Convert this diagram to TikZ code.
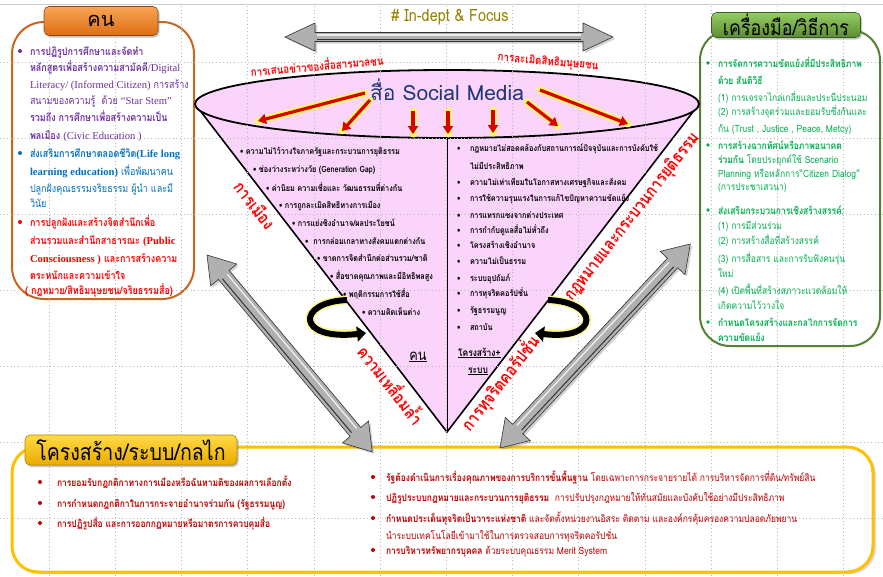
\documentclass[tikz,border=0pt]{standalone}
\usepackage{fontspec}
\usetikzlibrary{arrows.meta,shadows}
\newfontfamily\thai[Script=Thai,FakeStretch=0.85]{Loma}
\newfontfamily\thaiw[Script=Thai]{Loma}
\newfontfamily\lat{Liberation Serif}
\newcommand{\fsz}[1]{\fontsize{#1}{#1}\selectfont}
\definecolor{pinkc}{RGB}{251,212,251}
\definecolor{orgc}{RGB}{205,100,30}
\definecolor{grnc}{RGB}{84,130,53}
\definecolor{goldc}{RGB}{255,192,0}
\definecolor{purc}{RGB}{112,48,160}
\definecolor{bluc}{RGB}{0,112,192}
\definecolor{redc}{RGB}{255,0,0}
\definecolor{dredc}{RGB}{192,0,0}
\definecolor{grtxt}{RGB}{0,176,80}
\definecolor{navyc}{RGB}{31,56,120}
\definecolor{olivec}{RGB}{150,128,0}
\definecolor{tabOtop}{RGB}{248,165,85}
\definecolor{tabObot}{RGB}{222,110,20}
\definecolor{tabGtop}{RGB}{150,205,100}
\definecolor{tabGbot}{RGB}{90,140,50}
\definecolor{tabYtop}{RGB}{255,218,70}
\definecolor{tabYbot}{RGB}{235,170,0}
\newcommand{\grayarr}[4]{%
  \fill[gray!62, draw=gray!40!black, line width=0.6pt,
        drop shadow={opacity=0.35,shadow xshift=2pt,shadow yshift=-2pt}]
   (0,0) -- (#4,-#3) -- (#4,-#2) -- ({#1-#4},-#2) -- ({#1-#4},-#3) -- (#1,0)
   -- ({#1-#4},#3) -- ({#1-#4},#2) -- (#4,#2) -- (#4,#3) -- cycle;
  \draw[gray!15, line width=1.4pt] ({#4+2},{-0.45*#2}) -- ({#1-#4-2},{-0.45*#2});
  \draw[gray!40!black, line width=1pt] ({#4+2},{0.5*#2}) -- ({#1-#4-2},{0.5*#2});
}
\tikzset{
  tx/.style={anchor=base west, inner sep=0pt, outer sep=0pt},
  lbox/.style={tx, font=\thai\fsz{10.6}},
  rbox/.style={tx, font=\thai\fsz{10}, text=grtxt},
  conet/.style={tx, font=\thai\bfseries\fsz{8.6}},
  bbox/.style={tx, font=\thai\bfseries\fsz{10}, text=dredc},
  edgelab/.style={font=\thai\bfseries\fsz{17}, text=redc, inner sep=0pt},
  toplab/.style={font=\thai\bfseries\fsz{11.5}, text=redc, inner sep=0pt},
  titletab/.style={rounded corners=5pt, draw=#1, line width=0.6pt,
     drop shadow={opacity=0.45,shadow xshift=1.5pt,shadow yshift=-2pt}, inner sep=0pt},
  gridl/.style={gray!55, line width=0.5pt, dash pattern=on 0.8pt off 2.8pt},
  redarr/.style={red!85!black, line width=3.2pt, -{Triangle[length=8pt,width=10pt]}},
  glow/.style={yellow!60, line width=7pt, line cap=round},
  curl/.style={black, line width=6pt, -{Triangle[length=9pt,width=15pt]}},
  curlglow/.style={yellow!45, line width=9pt},
}
\begin{document}
\begin{tikzpicture}[x=1pt,y=-1pt]
\useasboundingbox (0,0) rectangle (883,576);
\fill[white] (0,0) rectangle (883,576);
\draw[gray!40, line width=1pt] (0,4) -- (883,4);

% boxes
\draw[orgc, line width=2pt, rounded corners=32pt, fill=white] (12,22) rectangle (194,299);
\draw[grnc, line width=2pt, rounded corners=30pt, fill=white] (700,30) rectangle (880,346);
\draw[goldc, line width=3pt, rounded corners=26pt, fill=white,
      drop shadow={opacity=0.3,shadow xshift=3pt,shadow yshift=-2pt}] (12,447) rectangle (873,572);

% funnel
\fill[pinkc] (195,104) -- (447,432) -- (699,104) -- cycle;
\draw[line width=1.6pt] (195,104) -- (447,432) -- (699,104);
\draw[line width=1.8pt, fill=pinkc] (447,104) ellipse [x radius=252, y radius=34];
\draw[line width=1pt] (447,138) -- (447,432);

% grid
\foreach \gx in {49,115.2,181.4,247.6,313.8,380,446.2,512.4,578.6,644.8,711,777.2,843.4}
  \draw[gridl] (\gx,6) -- (\gx,576);
\foreach \gy in {62,138,214,290,366,442,518}
  \draw[gridl] (0,\gy) -- (883,\gy);

% tabs
\node[titletab=orgc!70!black, top color=tabOtop, bottom color=tabObot,
      minimum width=114pt, minimum height=29pt, font=\thaiw\fsz{20}] (tabL) at (101,21) {คน};
\node[titletab=grnc!70!black, top color=tabGtop, bottom color=tabGbot,
      minimum width=149pt, minimum height=25pt, font=\thai\fsz{21}] (tabR) at (786,25) {เครื่องมือ/วิธีการ};
\node[titletab=goldc!70!black, top color=tabYtop, bottom color=tabYbot,
      minimum width=212pt, minimum height=30pt, font=\thai\fsz{23}] (tabB) at (131,450) {โครงสร้าง/ระบบ/กลไก};

% top arrow and heading
\begin{scope}[shift={(285,37)}] \grayarr{328}{4.5}{14}{30} \end{scope}
\node[font=\thai\fsz{17}, text=olivec] (focus) at (450,17) {\# In-dept \& Focus};

% diagonal grey arrows
\begin{scope}[shift={(207,255)}, rotate=-50] \grayarr{257}{7}{17}{26} \end{scope}
\begin{scope}[shift={(500,448)}, rotate=47] \grayarr{279}{7}{17}{26} \end{scope}

% social media title and red arrows
\node[font=\thaiw\fsz{21}, text=navyc] (sm) at (447,90) {สื่อ Social Media};
\foreach \xa/\ya/\xb/\yb in {365/93/258/121, 370/100/342/131, 413/111/413/134, 448/111/448/134,
    493/110/493/133, 527/102/558/126, 540/90/628/124}{
  \draw[glow] (\xa,\ya) -- (\xb,\yb);
  \draw[redarr] (\xa,\ya) -- (\xb,\yb);
}

% red labels
\node[toplab, rotate=5] (lab1) at (317,65) {การเสนอข่าวของสื่อสารมวลชน};
\node[toplab, rotate=-5] (lab2) at (548,62) {การละเมิดสิทธิมนุษยชน};
\node[edgelab, rotate=-52] (e1) at (255,205) {การเมือง};
\node[edgelab, rotate=-52] (e2) at (392,384) {ความเหลื่อมล้ำ};
\node[edgelab, rotate=52] (e3) at (632,217) {กฎหมายและกระบวนการยุติธรรม};
\node[edgelab, rotate=52] (e4) at (500,383) {การทุจริตคอรัปชั่น};

% curled arrows
\draw[curlglow] (347,300) .. controls (296,302) and (296,341) .. (356,333);
\draw[curl] (347,300) .. controls (296,302) and (296,341) .. (366,333);
\draw[curlglow] (548,300) .. controls (600,302) and (600,341) .. (545,333);
\draw[curl] (548,300) .. controls (600,302) and (600,341) .. (535,333);

% cone text left
\node[conet] (c1) at (240,154) {• ความไม่ไว้วางใจภาครัฐและกระบวนการยุติธรรม};
\node[conet] (c2) at (253,172) {• ช่องว่างระหว่างวัย (Generation Gap)};
\node[conet] (c3) at (266,191) {• ค่านิยม ความเชื่อและ วัฒนธรรมที่ต่างกัน};
\node[conet] (c4) at (279,208) {• การถูกละเมิดสิทธิทางการเมือง};
\node[conet] (c5) at (292,226) {• การแย่งชิงอำนาจ/ผลประโยชน์};
\node[conet] (c6) at (305,244) {• \ การกล่อมเกลาทางสังคมแตกต่างกัน};
\node[conet] (c7) at (317,261) {• ขาดการจิตสำนึกต่อส่วนรวม/ชาติ};
\node[conet] (c8) at (330,279) {• สื่อขาดคุณภาพและมีอิทธิพลสูง};
\node[conet] (c9) at (343,297) {• พฤติกรรมการใช้สื่อ};
\node[conet] (c10) at (362,315) {• ความคิดเห็นต่าง};
\node[font=\thai\fsz{15}] (kon) at (418,357) {\underline{คน}};

% cone text right
\foreach \yy/\tt [count=\i] in {151/กฎหมายไม่สอดคล้องกับสถานการณ์ปัจจุบันและการบังคับใช้,
   185/ความไม่เท่าเทียมในโอกาสทางเศรษฐกิจและสังคม,
   201/การใช้ความรุนแรงในการแก้ไขปัญหาความขัดแย้ง,
   218/การแทรกแซงจากต่างประเทศ,
   233/การกำกับดูแลสื่อไม่ทั่วถึง,
   248/โครงสร้างเชิงอำนาจ,
   264/ความไม่เป็นธรรม,
   281/ระบบอุปถัมภ์,
   296/การทุจริตคอรัปชั่น,
   313/รัฐธรรมนูญ,
   330/สถาบัน}{
  \node[conet] (bd\i) at (457,\yy) {•};
  \node[conet] (d\i) at (470,\yy) {\tt};
}
\node[conet] (d1b) at (470,169) {ไม่มีประสิทธิภาพ};
\node[tx, font=\thai\bfseries\fsz{10}] (st1) at (458,356) {\underline{โครงสร้าง+}};
\node[tx, font=\thai\bfseries\fsz{10}] (st2) at (468,373) {\underline{ระบบ}};

% left box text
\fill[purc] (20,51) circle (2);
\node[lbox, text=purc] (p1) at (30,55) {\bfseries การปฏิรูปการศึกษาและจัดทำ};
\node[lbox, text=purc] (p2) at (30,71) {\bfseries หลักสูตรเพื่อสร้างความสามัคคี{\lat\mdseries /Digital}};
\node[lbox, text=purc] (p3) at (30,88) {{\lat Literacy/ (Informed Citizen)} การสร้าง};
\node[lbox, text=purc] (p4) at (30,104) {สนามของความรู้ \ ด้วย {\lat “Star Stem”}};
\node[lbox, text=purc] (p5) at (30,121) {\bfseries รวมถึง การศึกษาเพื่อสร้างความเป็น};
\node[lbox, text=purc] (p6) at (30,139) {\bfseries พลเมือง {\lat\mdseries (Civic Education )}};
\fill[bluc] (20,153) circle (2);
\node[lbox, text=bluc] (b1) at (30,157) {\bfseries ส่งเสริมการศึกษาตลอดชีวิต{\lat(Life long}};
\node[lbox, text=bluc] (b2) at (30,175) {{\lat\bfseries learning education)} เพื่อพัฒนาคน};
\node[lbox, text=bluc] (b3) at (30,192) {ปลูกฝังคุณธรรมจริยธรรม ผู้นำ และมี};
\node[lbox, text=bluc] (b4) at (30,207) {วินัย};
\fill[redc] (20,222) circle (2);
\node[lbox, text=redc, font=\thai\bfseries\fsz{10.6}] (r1) at (30,226) {การปลูกฝังและสร้างจิตสำนึกเพื่อ};
\node[lbox, text=redc, font=\thai\bfseries\fsz{10.6}] (r2) at (30,244) {ส่วนรวมและสำนึกสาธารณะ {\lat (Public}};
\node[lbox, text=redc, font=\thai\bfseries\fsz{10.6}] (r3) at (30,262) {{\lat Consciousness )} และการสร้างความ};
\node[lbox, text=redc, font=\thai\bfseries\fsz{10.6}] (r4) at (30,279) {ตระหนักและความเข้าใจ};
\node[lbox, text=redc, font=\thai\bfseries\fsz{10.6}] (r5) at (25,294) {( กฎหมาย/สิทธิมนุษยชน/จริยธรรมสื่อ)};

% right box text
\foreach \by in {63,145,210,322} \fill[grtxt] (708,\by) circle (1.8);
\node[rbox, font=\thai\bfseries\fsz{10}] (g1) at (718,67) {การจัดการความขัดแย้งที่มีประสิทธิภาพ};
\node[rbox, font=\thai\bfseries\fsz{10}] (g2) at (718,84) {ด้วย สันติวิธี};
\node[rbox] (g3) at (718,101) {(1) การเจรจาไกล่เกลี่ยและประนีประนอม};
\node[rbox] (g4) at (718,115) {(2) การสร้างจุดร่วมและยอมรับซึ่งกันและ};
\node[rbox] (g5) at (718,132) {กัน (Trust , Justice , Peace, Metcy)};
\node[rbox, font=\thai\bfseries\fsz{10}] (g6) at (718,149) {การสร้างฉากทัศน์หรือภาพอนาคต};
\node[rbox] (g7) at (718,163) {{\bfseries ร่วมกัน} โดยประยุกต์ใช้ Scenario};
\node[rbox] (g8) at (718,177) {Planning หรือหลักการ“Citizen Dialog”};
\node[rbox] (g9) at (718,190) {(การประชาเสวนา)};
\node[rbox, font=\thai\bfseries\fsz{10}] (g10) at (718,214) {ส่งเสริมกระบวนการเชิงสร้างสรรค์:};
\node[rbox] (g11) at (718,229) {(1) การมีส่วนร่วม};
\node[rbox] (g12) at (718,244) {(2) การสร้างสื่อที่สร้างสรรค์};
\node[rbox] (g13) at (718,262) {(3) การสื่อสาร และการรับฟังคนรุ่น};
\node[rbox] (g14) at (718,277) {ใหม่};
\node[rbox] (g15) at (718,294) {(4) เปิดพื้นที่สร้างสภาวะแวดล้อมให้};
\node[rbox] (g16) at (718,309) {เกิดความไว้วางใจ};
\node[rbox, font=\thai\bfseries\fsz{10}] (g17) at (718,326) {กำหนดโครงสร้างและกลไกการจัดการ};
\node[rbox, font=\thai\bfseries\fsz{10}] (g18) at (718,341) {ความขัดแย้ง};

% bottom box text
\foreach \by in {482,503,523} \fill[dredc] (40,\by) circle (2);
\node[bbox] (k1) at (57,486) {การยอมรับกฎกติกาทางการเมืองหรือฉันทามติของผลการเลือกตั้ง};
\node[bbox] (k2) at (57,507) {การกำหนดกฎกติกาในการกระจายอำนาจร่วมกัน (รัฐธรรมนูญ)};
\node[bbox] (k3) at (57,527) {การปฏิรูปสื่อ และการออกกฎหมายหรือมาตรการควบคุมสื่อ};
\foreach \by in {477,497,518,550} \fill[dredc] (373,\by) circle (2);
\node[bbox] (m1) at (386,481) {รัฐต้องดำเนินการเรื่องคุณภาพของการบริการขั้นพื้นฐาน {\mdseries โดยเฉพาะการกระจายรายได้ การบริหารจัดการที่ดิน/ทรัพย์สิน}};
\node[bbox] (m2) at (386,501) {ปฏิรูประบบกฎหมายและกระบวนการยุติธรรม \ {\mdseries การปรับปรุงกฎหมายให้ทันสมัยและบังคับใช้อย่างมีประสิทธิภาพ}};
\node[bbox] (m3) at (386,522) {กำหนดประเด็นทุจริตเป็นวาระแห่งชาติ {\mdseries และจัดตั้งหน่วยงานอิสระ ติดตาม และองค์กรคุ้มครองความปลอดภัยพยาน}};
\node[bbox, font=\thai\fsz{10}] (m4) at (386,539) {นำระบบเทคโนโลยีเข้ามาใช้ในการตรวจสอบการทุจริตคอรัปชั่น};
\node[bbox] (m5) at (386,554) {การบริหารทรัพยากรบุคคล {\mdseries ด้วยระบบคุณธรรม Merit System}};
\end{tikzpicture}
\end{document}
